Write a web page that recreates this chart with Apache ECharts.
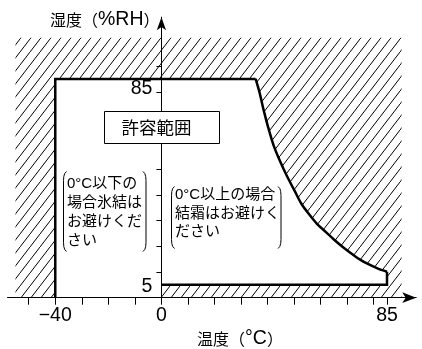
<!DOCTYPE html>
<html>
<head>
<meta charset="utf-8">
<script src="https://cdn.jsdelivr.net/npm/echarts@6/dist/echarts.min.js"></script>
<style>
html, body { margin: 0; padding: 0; background: #fff; }
#chart { width: 422px; height: 349px; }
</style>
</head>
<body>
<div id="chart"></div>
<script>
// 許容範囲の境界 (温度 °C, 湿度 %RH)
const leftX = [-40, -40, 35.5];
const leftY = [0, 85, 85];
const curveX = [35.5, 37.0, 38.5, 40.2, 42.2, 44.5, 47.1, 50.2, 52.8, 55.8, 58.6, 62.0, 65.2, 68.8, 71.8, 75.0, 77.8, 81.4, 85];
const curveY = [85, 79.6, 73.0, 66.3, 59.4, 53.5, 47.7, 41.5, 36.4, 32.2, 28.7, 25.5, 22.4, 19.3, 17.0, 14.7, 13.1, 11.4, 10.1];
const bottomX = [85, 85, 0];
const bottomY = [10.1, 5, 5];
// 斜線部の外枠
const hatchX = [-55, 90.5];
const hatchY = [0, 101];
// 目盛
const xTicks = [-50, -40, -30, -20, -10, 0, 10, 20, 30, 40, 50, 60, 70, 80, 85];
const xLabels = [-40, 0, 85];
const yTicks = [10, 20, 30, 40, 50, 60, 70, 80, 90];
const yLabels = [5, 85];

const FONT = '"Liberation Sans", "Noto Sans CJK JP", sans-serif';
const CJK = '"Noto Sans CJK JP", sans-serif';

// 斜線パターン
const tile = document.createElement('canvas');
tile.width = 10;
tile.height = 13;
const tctx = tile.getContext('2d');
tctx.strokeStyle = '#000';
tctx.lineWidth = 1;
tctx.beginPath();
tctx.moveTo(-1, 14.3);
tctx.lineTo(11, -1.3);
tctx.stroke();

function bracket(x, top, bot, dir) {
    // dir = 1 : 「(」, dir = -1 : 「)」
    return [
        [x + 3 * dir, top], [x + 1.2 * dir, top + 2], [x + 0.3 * dir, top + 5], [x, top + 9],
        [x, bot - 9], [x + 0.3 * dir, bot - 5], [x + 1.2 * dir, bot - 2], [x + 3 * dir, bot]
    ];
}

const richName = {
    c: { fontSize: 16, fontFamily: CJK, color: '#000' },
    l: { fontSize: 19.5, fontFamily: FONT, color: '#000' }
};

const chart = echarts.init(document.getElementById('chart'));
chart.setOption({
    animation: false,
    backgroundColor: '#fff',
    grid: {
        left: 7.5,
        right: 5.8,
        top: 17.2,
        bottom: 51.3,
        outerBoundsMode: 'none'
    },
    xAxis: {
        type: 'value',
        min: -58,
        max: 96,
        zlevel: 1,
        z: 3,
        splitLine: { show: false },
        axisLine: {
            onZero: true,
            symbol: ['none', 'arrow'],
            symbolSize: [8, 14],
            lineStyle: { color: '#000', width: 1 }
        },
        axisTick: {
            customValues: xTicks,
            length: 7,
            lineStyle: { color: '#000', width: 1 }
        },
        axisLabel: {
            customValues: xLabels,
            margin: 8,
            color: '#000',
            fontSize: 19.5,
            fontFamily: FONT,
            formatter: v => (v < 0 ? '−' + Math.abs(v) : String(v))
        }
    },
    yAxis: {
        type: 'value',
        min: 0,
        max: 109,
        zlevel: 1,
        z: 3,
        splitLine: { show: false },
        axisLine: {
            onZero: true,
            symbol: ['none', 'arrow'],
            symbolSize: [7, 13],
            lineStyle: { color: '#000', width: 1 }
        },
        axisTick: {
            customValues: yTicks,
            length: 5,
            lineStyle: { color: '#000', width: 1 }
        },
        axisLabel: { show: false }
    },
    series: [
        {
            type: 'custom',
            coordinateSystem: 'cartesian2d',
            silent: true,
            z: 1,
            data: [[0, 0]],
            renderItem: function (params, api) {
                const outer = [
                    api.coord([hatchX[0], hatchY[0]]),
                    api.coord([hatchX[0], hatchY[1]]),
                    api.coord([hatchX[1], hatchY[1]]),
                    api.coord([hatchX[1], hatchY[0]])
                ];
                const pt = (xs, ys) => xs.map((x, i) => api.coord([x, ys[i]]));
                const left = pt(leftX, leftY);
                const curve = pt(curveX, curveY);
                const bottom = pt(bottomX, bottomY);
                const fillPts = left.concat(curve, bottom, [api.coord([0, 0])]);
                const line = { fill: null, stroke: '#000', lineWidth: 2.5, lineJoin: 'miter' };
                // 縦軸の目盛ラベル
                const labels = yLabels.map(v => {
                    const p = api.coord([0, v]);
                    return {
                        type: 'text',
                        x: p[0] - 9,
                        y: p[1] + (v === 85 ? 10 : 1.5),
                        style: {
                            text: String(v), fontSize: 19.5, fontFamily: FONT, fill: '#000',
                            align: 'right', verticalAlign: 'middle'
                        }
                    };
                });
                return {
                    type: 'group',
                    children: [
                        {
                            type: 'polygon',
                            shape: { points: outer },
                            style: { fill: { image: tile, repeat: 'repeat' }, stroke: null }
                        },
                        {
                            type: 'polygon',
                            shape: { points: fillPts },
                            style: { fill: '#fff', stroke: null }
                        },
                        { type: 'polyline', shape: { points: left }, style: line },
                        { type: 'polyline', shape: { points: curve, smooth: 0.3 }, style: line },
                        { type: 'polyline', shape: { points: bottom }, style: line }
                    ].concat(labels)
                };
            }
        }
    ],
    graphic: [
        {
            type: 'text', x: 50, y: 20, zlevel: 2, z: 100,
            style: { text: '{c|湿度（}{l|%RH}{c|）}', rich: richName, verticalAlign: 'middle' }
        },
        {
            type: 'text', x: 197, y: 339, zlevel: 2, z: 100,
            style: { text: '{c|温度（}{l|°C}{c|）}', rich: richName, verticalAlign: 'middle' }
        },
        {
            type: 'rect', zlevel: 2, z: 100,
            shape: { x: 104.5, y: 111.5, width: 115, height: 32 },
            style: { fill: '#fff', stroke: '#000', lineWidth: 1 }
        },
        {
            type: 'text', x: 121.5, y: 127.5, zlevel: 2, z: 101,
            style: { text: '許容範囲', fontSize: 17.5, fontFamily: CJK, fill: '#000', verticalAlign: 'middle' }
        },
        {
            type: 'text', x: 67, y: 174, zlevel: 2, z: 100,
            style: {
                text: '0°C以下の\n場合氷結は\nお避けくだ\nさい',
                fontSize: 15, lineHeight: 19, fontFamily: FONT, fill: '#000', verticalAlign: 'top'
            }
        },
        {
            type: 'text', x: 175, y: 186, zlevel: 2, z: 100,
            style: {
                text: '0°C以上の場合\n結霜はお避けく\nださい',
                fontSize: 15, lineHeight: 18.4, fontFamily: FONT, fill: '#000', verticalAlign: 'top'
            }
        },
        { type: 'polyline', zlevel: 2, z: 100, shape: { points: bracket(63.5, 171.5, 251.5, 1) }, style: { fill: null, stroke: '#000', lineWidth: 1 } },
        { type: 'polyline', zlevel: 2, z: 100, shape: { points: bracket(146, 171.5, 251.5, -1) }, style: { fill: null, stroke: '#000', lineWidth: 1 } },
        { type: 'polyline', zlevel: 2, z: 100, shape: { points: bracket(171.5, 186.5, 248.5, 1) }, style: { fill: null, stroke: '#000', lineWidth: 1 } },
        { type: 'polyline', zlevel: 2, z: 100, shape: { points: bracket(281, 186.5, 248.5, -1) }, style: { fill: null, stroke: '#000', lineWidth: 1 } }
    ]
});
</script>
</body>
</html>
